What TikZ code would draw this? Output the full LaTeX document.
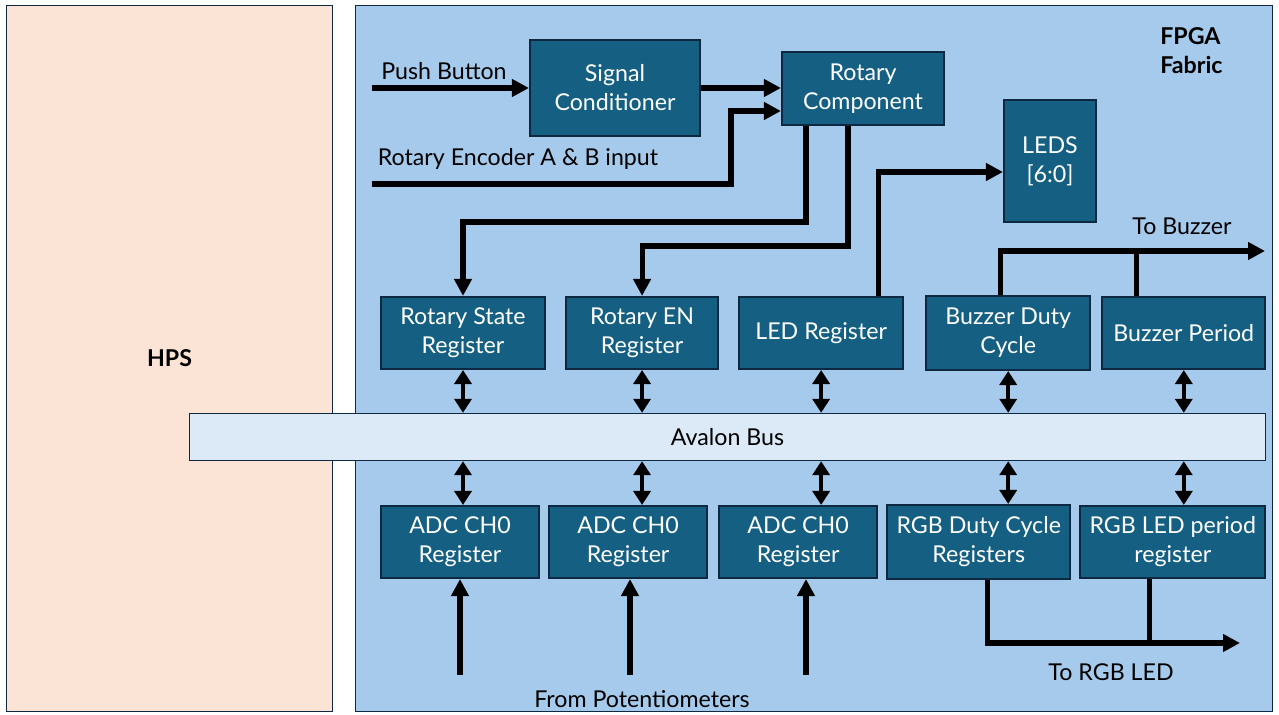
\documentclass[tikz,border=0pt]{standalone}
\usepackage{fontspec}
\setmainfont{Lato}
\usetikzlibrary{positioning,arrows.meta}
\definecolor{HpsPeach}{HTML}{FBE3D6}
\definecolor{FabricBlue}{HTML}{A6CAEC}
\definecolor{BlockTeal}{HTML}{156082}
\definecolor{BlockEdge}{HTML}{0E2841}
\definecolor{BusBlue}{HTML}{DCEAF7}

\begin{document}
\begin{tikzpicture}[x=0.02cm, y=-0.02cm, font=\fontsize{13.2}{16.5}\selectfont]
  \tikzstyle{region} = [rectangle, draw=BlockEdge, line width=0.8pt, minimum height=14.12cm, inner sep=0pt]
  \tikzstyle{block} = [rectangle, draw=BlockEdge, line width=1.2pt, fill=BlockTeal, text=white, align=center, inner sep=0pt]
  \tikzstyle{reg} = [block, minimum height=1.44cm]
  \tikzstyle{wire} = [line width=2.9pt, black]
  \tikzstyle{sig} = [wire, -{Triangle[length=0.34cm, width=0.34cm]}]
  \tikzstyle{busarrow} = [line width=2.2pt, {Triangle[length=0.28cm, width=0.34cm]}-{Triangle[length=0.28cm, width=0.34cm]}]
  \tikzstyle{lbl} = [inner sep=0pt]

  \useasboundingbox (0,0) rectangle (1279,715);

  % HPS and fabric areas
  \node [region, fill=HpsPeach, minimum width=6.52cm, font=\fontsize{13.2}{16.5}\selectfont\bfseries] (hps) at (169.5,358.5) {HPS};
  \node [region, fill=FabricBlue, minimum width=18.34cm] (fabric) at (814,358.5) {};
  \node [lbl, anchor=north west, align=left, font=\fontsize{13.2}{16.5}\selectfont\bfseries] (fpga) at (1160,27) {FPGA\\Fabric};

  \node [rectangle, draw=BlockEdge, line width=0.8pt, fill=BusBlue, minimum width=21.52cm, minimum height=0.94cm] (avalon) at (727.5,437) {Avalon Bus};

  % input side
  \node [block, minimum width=3.40cm, minimum height=1.92cm] (sigcond) at (615,88) {Signal\\Conditioner};
  \node [block, minimum width=3.24cm, minimum height=1.46cm] (rotary) at (863,88.5) {Rotary\\Component};
  \node [block, minimum width=1.84cm, minimum height=2.44cm] (leds) at (1050,161) {LEDS\\{[6:0]}};

  % registers above the bus
  \node [reg, minimum width=3.28cm] (rotstate) at (463,333) {Rotary State\\Register};
  \node [reg, minimum width=3.04cm, right=0.38cm of rotstate] (roten) {Rotary EN\\Register};
  \node [reg, minimum width=3.28cm, right=0.38cm of roten] (ledreg) {LED Register};
  \node [reg, minimum width=3.28cm, minimum height=1.48cm, right=0.42cm of ledreg] (buzduty) {Buzzer Duty\\Cycle};
  \node [reg, minimum width=3.26cm, right=0.2cm of buzduty] (buzper) {Buzzer Period};

  % registers below the bus
  \node [reg, minimum width=3.16cm] (adc1) at (460,542) {ADC CH0\\Register};
  \node [reg, minimum width=3.16cm, right=0.16cm of adc1] (adc2) {ADC CH0\\Register};
  \node [reg, minimum width=3.16cm, right=0.2cm of adc2] (adc3) {ADC CH0\\Register};
  \node [reg, minimum width=3.66cm, minimum height=1.48cm, right=0.16cm of adc3] (rgbduty) {RGB Duty Cycle\\Registers};
  \node [reg, minimum width=3.70cm, right=0.16cm of rgbduty] (rgbper) {RGB LED period\\register};

  % free ends
  \coordinate (pbin) at (372,88);
  \coordinate (encin) at (372,184);
  \coordinate (buzout) at (1265,251);
  \coordinate (rgbout) at (1240,643);
  \coordinate (pot1) at (460,675);
  \coordinate (pot2) at (630,675);
  \coordinate (pot3) at (806,675);

  % labels
  \node [lbl] (pblbl) at (444,71) {Push Button};
  \node [lbl] (enclbl) at (518,159) {Rotary Encoder A \& B input};
  \node [lbl] (buzlbl) at (1182,226) {To Buzzer};
  \node [lbl] (rgblbl) at (1111,672) {To RGB LED};
  \node [lbl] (potlbl) at (642,699) {From Potentiometers};

  % top wiring
  \draw [sig] (pbin) -- (sigcond.west);
  \draw [sig] (sigcond.east) -- (sigcond.east -| rotary.west);
  \draw [sig] (encin) -- ++(359,0) |- ([yshift=-0.45cm]rotary.west);
  \draw [sig] ([xshift=-1.14cm]rotary.south) -- ++(0,96) -| (rotstate.north);
  \draw [sig] ([xshift=-0.3cm]rotary.south) -- ++(0,120) -| (roten.north);
  \draw [sig] ([xshift=1.14cm]ledreg.north) |- ([yshift=-0.22cm]leds.west);
  \draw [sig] ([xshift=-0.16cm]buzduty.north) |- (buzout);
  \draw [wire] ([xshift=-0.95cm]buzper.north) -- ([xshift=-0.95cm]buzper.north |- buzout);

  % bus connections
  \foreach \r in {rotstate, roten, ledreg, buzduty, buzper}
    \draw [busarrow] (\r.south) -- (\r.south |- avalon.north);
  \draw [busarrow] (rotstate.south |- avalon.south) -- (rotstate.south |- adc1.north);
  \draw [busarrow] (roten.south |- avalon.south) -- (roten.south |- adc2.north);
  \draw [busarrow] (ledreg.south |- avalon.south) -- (ledreg.south |- adc3.north);
  \draw [busarrow] (buzduty.south |- avalon.south) -- (buzduty.south |- rgbduty.north);
  \draw [busarrow] (buzper.south |- avalon.south) -- (buzper.south |- rgbper.north);

  % bottom wiring
  \draw [sig] (pot1) -- (pot1 |- adc1.south);
  \draw [sig] (pot2) -- (pot2 |- adc2.south);
  \draw [sig] (pot3) -- (pot3 |- adc3.south);
  \draw [sig] ([xshift=0.17cm]rgbduty.south) |- (rgbout);
  \draw [wire] ([xshift=-0.47cm]rgbper.south) -- ([xshift=-0.47cm]rgbper.south |- rgbout);
\end{tikzpicture}
\end{document}
